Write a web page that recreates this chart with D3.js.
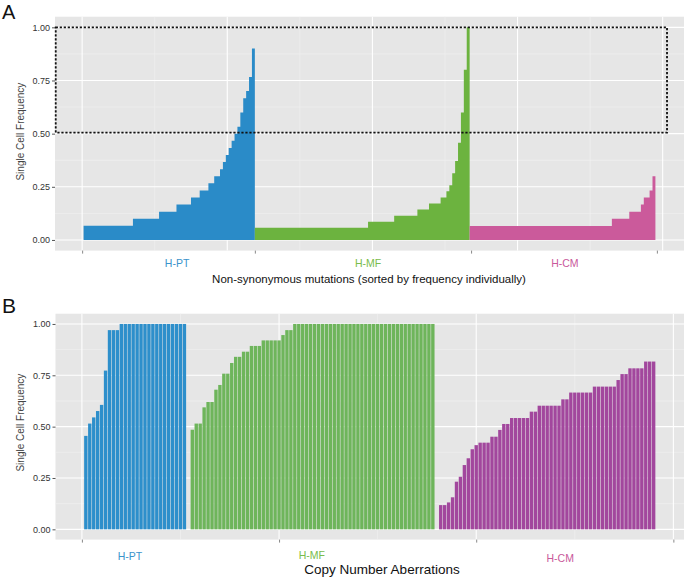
<!DOCTYPE html>
<html>
<head>
<meta charset="utf-8">
<script src="https://cdn.jsdelivr.net/npm/d3@7"></script>
<style>
  body { margin: 0; background: #fff; }
  svg text { font-family: "Liberation Sans", Arial, Helvetica, sans-serif; }
</style>
</head>
<body>
<svg id="chart" width="685" height="577"></svg>
<script>
// ---- data: panel A, single cell frequency of each mutation (sorted) ----
const groupNames = ["H-PT", "H-MF", "H-CM"];

const mutPT = [
  0.067, 0.067, 0.067, 0.067, 0.067, 0.067, 0.067, 0.067, 0.067, 0.067, 0.067, 0.067, 0.067, 0.067, 0.067, 0.067, 0.067,
  0.1, 0.1, 0.1, 0.1, 0.1, 0.1, 0.1, 0.1, 0.1,
  0.133, 0.133, 0.133, 0.133, 0.133, 0.133,
  0.167, 0.167, 0.167, 0.167, 0.167,
  0.2, 0.2, 0.2, 0.233, 0.233, 0.233, 0.267, 0.267, 0.3, 0.3,
  0.333, 0.367, 0.4, 0.433, 0.467, 0.5, 0.533, 0.6, 0.667, 0.7, 0.767, 0.9
];
const mutMF = [
  0.057, 0.057, 0.057, 0.057, 0.057, 0.057, 0.057, 0.057, 0.057, 0.057,
  0.057, 0.057, 0.057, 0.057, 0.057, 0.057, 0.057, 0.057, 0.057, 0.057,
  0.057, 0.057, 0.057, 0.057, 0.057, 0.057, 0.057, 0.057, 0.057, 0.057,
  0.057, 0.057, 0.057, 0.057, 0.057, 0.057, 0.057, 0.057, 0.057,
  0.086, 0.086, 0.086, 0.086, 0.086, 0.086, 0.086, 0.086, 0.086,
  0.114, 0.114, 0.114, 0.114, 0.114, 0.114, 0.114, 0.114,
  0.143, 0.143, 0.143, 0.143, 0.171, 0.171, 0.171, 0.171, 0.2, 0.2,
  0.229, 0.257, 0.314, 0.371, 0.457, 0.6, 0.8, 1.0
];
const mutCM = [
  0.066, 0.066, 0.066, 0.066, 0.066, 0.066, 0.066, 0.066, 0.066, 0.066,
  0.066, 0.066, 0.066, 0.066, 0.066, 0.066, 0.066, 0.066, 0.066, 0.066,
  0.066, 0.066, 0.066, 0.066, 0.066, 0.066, 0.066, 0.066, 0.066, 0.066,
  0.066, 0.066, 0.066, 0.066, 0.066, 0.066, 0.066, 0.066, 0.066, 0.066,
  0.066, 0.066, 0.066, 0.066, 0.066, 0.066, 0.066, 0.066, 0.066,
  0.1, 0.1, 0.1, 0.1, 0.1, 0.1,
  0.133, 0.133, 0.133, 0.133,
  0.167, 0.2, 0.2, 0.233, 0.3
];

// ---- data: panel B, single cell frequency of each copy number aberration ----
const cnaPT = [
  0.455, 0.515, 0.545, 0.576, 0.606, 0.773, 0.97, 0.97, 0.97,
  1, 1, 1, 1, 1, 1, 1, 1, 1, 1, 1, 1, 1, 1, 1, 1, 1
];
const cnaMF = [
  0.485, 0.515, 0.515, 0.594, 0.62, 0.62, 0.68, 0.703, 0.758, 0.758,
  0.81, 0.84, 0.84, 0.865, 0.865, 0.893, 0.893, 0.893, 0.92, 0.92,
  0.92, 0.92, 0.92, 0.946, 0.97, 0.97,
  1, 1, 1, 1, 1, 1, 1, 1, 1, 1, 1, 1, 1, 1, 1, 1, 1, 1,
  1, 1, 1, 1, 1, 1, 1, 1, 1, 1, 1, 1, 1, 1, 1, 1, 1, 1
];
const cnaCM = [
  0.118, 0.118, 0.131, 0.156, 0.232, 0.256, 0.313, 0.346, 0.39, 0.41,
  0.422, 0.422, 0.422, 0.451, 0.451, 0.484, 0.513, 0.513,
  0.542, 0.542, 0.542, 0.542, 0.542, 0.573, 0.573,
  0.602, 0.602, 0.602, 0.602, 0.602, 0.602, 0.633, 0.633,
  0.666, 0.666, 0.666, 0.666, 0.666, 0.666,
  0.695, 0.695, 0.695, 0.695, 0.695, 0.695,
  0.727, 0.756, 0.756, 0.784, 0.784, 0.784, 0.784, 0.817, 0.817, 0.817
];

const yTicks = [0, 0.25, 0.5, 0.75, 1];
const yMinor = [0.125, 0.375, 0.625, 0.875];
const xMajorA = [0, 50, 100, 150, 200];
const xMinorA = [25, 75, 125, 175];
const xTicksA = [0, 59.5, 134, 198];
const xMajorB = [0, 50, 100, 150];
const xMinorB = [25, 75, 125];
const boxA = { x0: -9.1, x1: 201.5, y0: 0.505, y1: 1.0 };

// label positions (x in data units) and colours
const labelXA = [32.7, 98.5, 166.3];
const labelXB = [12.2, 58.3, 121.3];
const labelDyB = [0, -1.5, 2];
const labelColors = ["#3b93cb", "#79bc4c", "#c9599b"];
const colorsA = ["#2a8bc8", "#6cb33f", "#cb5a9b"];
const colorsB = ["#2d8fcb", "#6eb55b", "#a2479d"];

const svg = d3.select("#chart");
const tickFmt = d3.format(".2f");

function drawPanelFrame(g, x, y, xMajor, xMinor, xTicks) {
  const [x0, x1] = x.range();
  const [yb, yt] = y.range();
  g.append("rect").attr("x", x0).attr("y", yt).attr("width", x1 - x0).attr("height", yb - yt)
    .attr("fill", "#e6e6e6");
  g.selectAll(".hmin").data(yMinor).enter().append("line")
    .attr("x1", x0).attr("x2", x1).attr("y1", d => y(d)).attr("y2", d => y(d))
    .attr("stroke", "#f2f2f2").attr("stroke-width", 0.6);
  g.selectAll(".vmin").data(xMinor).enter().append("line")
    .attr("y1", yt).attr("y2", yb).attr("x1", d => x(d)).attr("x2", d => x(d))
    .attr("stroke", "#f2f2f2").attr("stroke-width", 0.6);
  g.selectAll(".hmaj").data(yTicks).enter().append("line")
    .attr("x1", x0).attr("x2", x1).attr("y1", d => y(d)).attr("y2", d => y(d))
    .attr("stroke", "#fff").attr("stroke-width", 1.1);
  g.selectAll(".vmaj").data(xMajor).enter().append("line")
    .attr("y1", yt).attr("y2", yb).attr("x1", d => x(d)).attr("x2", d => x(d))
    .attr("stroke", "#fff").attr("stroke-width", 1.1);

  // y axis
  const ya = g.append("g").attr("transform", `translate(${x0},0)`)
    .call(d3.axisLeft(y).tickValues(yTicks).tickFormat(tickFmt).tickSize(3).tickPadding(2));
  ya.select(".domain").remove();
  ya.selectAll("line").attr("stroke", "#555");
  ya.selectAll("text").attr("fill", "#333").style("font-size", "9px");

  // x axis (ticks only)
  const xa = g.append("g").attr("transform", `translate(0,${yb})`)
    .call(d3.axisBottom(x).tickValues(xTicks).tickFormat("").tickSize(3));
  xa.select(".domain").remove();
  xa.selectAll("line").attr("stroke", "#888");
}

// ---------------- panel A ----------------
const seriesA = [mutPT, mutMF, mutCM];
let startA = 0;
const groupsA = seriesA.map((vals, gi) => {
  const pts = vals.map((v, i) => ({ x: startA + i + 1, v }));
  startA += vals.length;
  return { name: groupNames[gi], pts };
});
const nA = startA;
const padA = 0.05 * nA;
const xA = d3.scaleLinear().domain([0.5 - padA, nA + 0.5 + padA]).range([55, 684]);
const yA = d3.scaleLinear().domain([-0.05, 1.05]).range([250.6, 16.7]);

const gA = svg.append("g");
drawPanelFrame(gA, xA, yA, xMajorA, xMinorA, xTicksA);

const areaA = d3.area()
  .x(d => xA(d.x))
  .y0(yA(0))
  .y1(d => yA(d.v))
  .curve(d3.curveStepAfter);

groupsA.forEach((grp, gi) => {
  const steps = grp.pts.map(p => ({ x: p.x - 0.5, v: p.v }));
  const last = grp.pts[grp.pts.length - 1];
  steps.push({ x: last.x + 0.5, v: last.v });
  gA.append("path").datum(steps).attr("d", areaA).attr("fill", colorsA[gi]);
});

gA.append("rect")
  .attr("x", xA(boxA.x0)).attr("y", yA(boxA.y1))
  .attr("width", xA(boxA.x1) - xA(boxA.x0)).attr("height", yA(boxA.y0) - yA(boxA.y1))
  .attr("fill", "none").attr("stroke", "#111").attr("stroke-width", 1.8)
  .attr("stroke-dasharray", "2.2,1.8");

gA.selectAll(".glab").data(groupNames).enter().append("text")
  .attr("x", (d, i) => xA(labelXA[i])).attr("y", 267)
  .attr("text-anchor", "middle").style("font-size", "10.5px")
  .attr("fill", (d, i) => labelColors[i]).text(d => d);

gA.append("text").attr("x", 369).attr("y", 283).attr("text-anchor", "middle")
  .style("font-size", "11.5px").attr("fill", "#111")
  .text("Non-synonymous mutations (sorted by frequency individually)");

gA.append("text").attr("transform", `translate(24,${(yA.range()[0] + yA.range()[1]) / 2 - 2}) rotate(-90)`)
  .attr("text-anchor", "middle").style("font-size", "10px").attr("fill", "#444")
  .text("Single Cell Frequency");

svg.append("text").attr("x", 2).attr("y", 19).style("font-size", "20px").attr("fill", "#111").text("A");

// ---------------- panel B ----------------
const seriesB = [cnaPT, cnaMF, cnaCM];
let startB = 0;
const groupsB = seriesB.map((vals, gi) => {
  const pts = vals.map((v, i) => ({ x: startB + i + 1, v, gi }));
  startB += vals.length + 1; // one empty slot between groups
  return pts;
});
const lastB = groupsB[2][groupsB[2].length - 1].x;
const padB = 0.05 * (lastB - 1 + 0.9);
const xB = d3.scaleLinear().domain([0.55 - padB, lastB + 0.45 + padB]).range([55.5, 684]);
const yB = d3.scaleLinear().domain([-0.05, 1.05]).range([539.6, 313.7]);

const gB = svg.append("g");
drawPanelFrame(gB, xB, yB, xMajorB, xMinorB, xMajorB);

gB.selectAll(".bar").data(groupsB.flat()).enter().append("rect")
  .attr("x", d => xB(d.x - 0.43))
  .attr("width", d => xB(d.x + 0.43) - xB(d.x - 0.43))
  .attr("y", d => yB(d.v))
  .attr("height", d => yB(0) - yB(d.v))
  .attr("fill", d => colorsB[d.gi]);

gB.selectAll(".glab").data(groupNames).enter().append("text")
  .attr("x", (d, i) => xB(labelXB[i])).attr("y", (d, i) => 560 + labelDyB[i])
  .attr("text-anchor", "middle").style("font-size", "10.5px")
  .attr("fill", (d, i) => labelColors[i]).text(d => d);

gB.append("text").attr("x", 382).attr("y", 574).attr("text-anchor", "middle")
  .style("font-size", "13.5px").attr("fill", "#111").text("Copy Number Aberrations");

gB.append("text").attr("transform", `translate(24,${(yB.range()[0] + yB.range()[1]) / 2 - 4}) rotate(-90)`)
  .attr("text-anchor", "middle").style("font-size", "10px").attr("fill", "#444")
  .text("Single Cell Frequency");

svg.append("text").attr("x", 2).attr("y", 313).style("font-size", "21px").attr("fill", "#111").text("B");
</script>
</body>
</html>
